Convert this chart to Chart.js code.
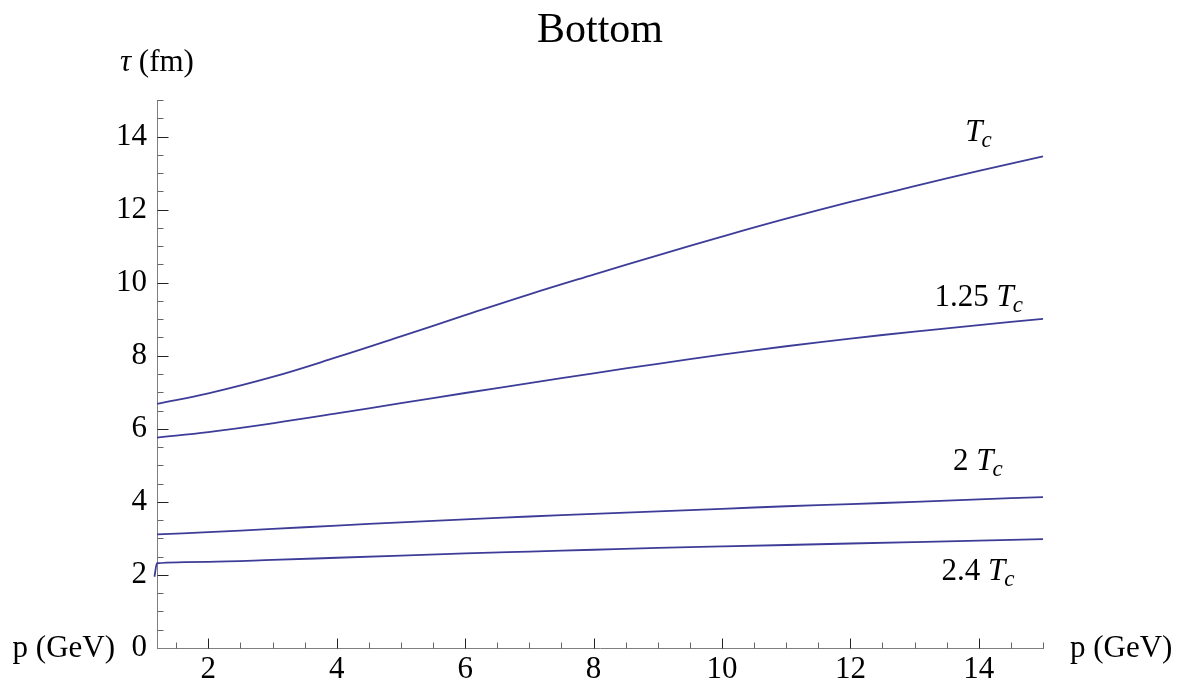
<!DOCTYPE html>
<html>
<head>
<meta charset="utf-8">
<title>Bottom</title>
<script src="https://cdn.jsdelivr.net/npm/chart.js@4.4.1/dist/chart.umd.min.js"></script>
<style>
  html, body { margin: 0; padding: 0; background: #fff; }
  canvas { display: block; }
</style>
</head>
<body>
<canvas id="tauChart" width="1191" height="684"></canvas>
<script>
// --- Data ---
const pGrid = [1.2, 2, 3, 4, 5, 6, 7, 8, 9, 10, 11, 12, 13, 14, 15];
const tauTc   = [6.68, 6.97, 7.42, 7.96, 8.53, 9.11, 9.68, 10.22, 10.75, 11.26, 11.75, 12.21, 12.64, 13.06, 13.46];
const tau125  = [5.76, 5.91, 6.15, 6.42, 6.70, 6.98, 7.25, 7.52, 7.78, 8.03, 8.26, 8.47, 8.66, 8.84, 9.01];
const tau2    = [3.11, 3.17, 3.26, 3.35, 3.44, 3.52, 3.60, 3.67, 3.74, 3.81, 3.88, 3.94, 4.00, 4.07, 4.13];
// the 2.4 Tc curve has a short hook just left of the axis
const pGrid24 = [1.16, 1.2, 2, 3, 4, 5, 6, 7, 8, 9, 10, 11, 12, 13, 14, 15];
const tau24   = [1.95, 2.32, 2.36, 2.41, 2.47, 2.53, 2.59, 2.64, 2.69, 2.74, 2.78, 2.82, 2.86, 2.90, 2.94, 2.98];

const xTickLabels = [2, 4, 6, 8, 10, 12, 14];
const yTickLabels = [0, 2, 4, 6, 8, 10, 12, 14];
const minorStep = 0.5;

// curve labels: prefix, anchor (data coords, left / baseline)
const curveLabels = [
  { prefix: '',      x: 13.79, y: 13.87 },
  { prefix: '1.25 ', x: 13.31, y: 9.37 },
  { prefix: '2 ',    x: 13.60, y: 4.88 },
  { prefix: '2.4 ',  x: 13.42, y: 1.86 }
];

const LINE_COLOR = '#3d3d99';
const SERIF = '"Liberation Serif", "Times New Roman", serif';

const toPoints = (xs, ys) => xs.map((x, i) => ({ x: x, y: ys[i] }));

const makeDataset = (label, xs, ys, mode) => ({
  label: label,
  data: toPoints(xs, ys),
  showLine: true,
  borderColor: LINE_COLOR,
  borderWidth: 1.8,
  pointRadius: 0,
  fill: false,
  cubicInterpolationMode: mode || 'default',
  tension: 0.4,
  clip: false
});

// --- Text and tick marks drawn on top ---
const decorPlugin = {
  id: 'decor',
  afterDraw(chart) {
    const ctx = chart.ctx;
    const xs = chart.scales.x;
    const ys = chart.scales.y;
    const axisY = Math.round(ys.getPixelForValue(0)) + 0.5;
    const axisX = Math.round(xs.getPixelForValue(1.2)) + 0.5;

    ctx.save();
    ctx.lineWidth = 1;

    // x ticks (inward)
    for (let v = 1.5; v <= 15.001; v += minorStep) {
      const major = xTickLabels.includes(v);
      const px = Math.round(xs.getPixelForValue(v)) + 0.5;
      ctx.strokeStyle = major ? '#222' : '#666';
      ctx.beginPath();
      ctx.moveTo(px, axisY);
      ctx.lineTo(px, axisY - (major ? 10 : 6));
      ctx.stroke();
    }
    // y ticks (inward)
    for (let v = 0.5; v <= 15.001; v += minorStep) {
      const major = yTickLabels.includes(v);
      const py = Math.round(ys.getPixelForValue(v)) + 0.5;
      ctx.strokeStyle = major ? '#222' : '#666';
      ctx.beginPath();
      ctx.moveTo(axisX, py);
      ctx.lineTo(axisX + (major ? 11 : 6), py);
      ctx.stroke();
    }

    ctx.fillStyle = '#000';

    // title
    ctx.font = '42px ' + SERIF;
    ctx.textAlign = 'center';
    ctx.textBaseline = 'alphabetic';
    ctx.fillText('Bottom', 600, 42);

    // y axis label: tau (fm)
    ctx.textAlign = 'left';
    ctx.font = 'italic 31px ' + SERIF;
    ctx.fillText('τ', 120, 71);
    const tauW = ctx.measureText('τ').width;
    ctx.font = '31px ' + SERIF;
    ctx.fillText(' (fm)', 120 + tauW, 71);

    // x axis labels at both ends
    ctx.textBaseline = 'middle';
    ctx.textAlign = 'right';
    ctx.fillText('p (GeV)', 115, axisY);
    ctx.textAlign = 'left';
    ctx.fillText('p (GeV)', 1070, axisY);

    // curve labels
    ctx.textBaseline = 'alphabetic';
    curveLabels.forEach(lab => {
      let px = xs.getPixelForValue(lab.x);
      const py = ys.getPixelForValue(lab.y);
      ctx.font = '31px ' + SERIF;
      ctx.fillText(lab.prefix, px, py);
      px += ctx.measureText(lab.prefix).width;
      ctx.font = 'italic 31px ' + SERIF;
      ctx.fillText('T', px, py);
      px += ctx.measureText('T').width - 1;
      ctx.font = 'italic 23px ' + SERIF;
      ctx.fillText('c', px, py + 6);
    });

    ctx.restore();
  }
};

const ctx = document.getElementById('tauChart').getContext('2d');

new Chart(ctx, {
  type: 'scatter',
  data: {
    datasets: [
      makeDataset('Tc', pGrid, tauTc),
      makeDataset('1.25 Tc', pGrid, tau125),
      makeDataset('2 Tc', pGrid, tau2),
      makeDataset('2.4 Tc', pGrid24, tau24, 'monotone')
    ]
  },
  options: {
    responsive: false,
    animation: false,
    layout: { padding: { top: 100, right: 148, left: 0, bottom: 0 } },
    plugins: {
      legend: { display: false },
      tooltip: { enabled: false },
      title: { display: false }
    },
    scales: {
      x: {
        type: 'linear',
        min: 1.2,
        max: 15,
        grid: { display: false, drawTicks: false },
        border: { display: true, color: '#7f7f7f', width: 1 },
        ticks: {
          padding: 3,
          color: '#000',
          font: { family: SERIF, size: 31 },
          maxRotation: 0
        },
        afterBuildTicks: scale => { scale.ticks = xTickLabels.map(v => ({ value: v })); },
        afterFit: scale => { scale.height = 36; }
      },
      y: {
        type: 'linear',
        min: 0,
        max: 15,
        grid: { display: false, drawTicks: false },
        border: { display: true, color: '#7f7f7f', width: 1 },
        ticks: {
          padding: 10,
          color: '#000',
          font: { family: SERIF, size: 31 }
        },
        afterBuildTicks: scale => { scale.ticks = yTickLabels.map(v => ({ value: v })); },
        afterFit: scale => { scale.width = 157; }
      }
    }
  },
  plugins: [decorPlugin]
});
</script>
</body>
</html>
